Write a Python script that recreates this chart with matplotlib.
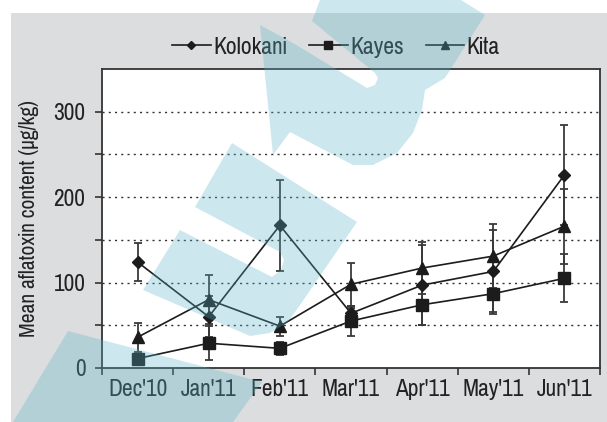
import numpy as np
import matplotlib
matplotlib.use("Agg")
import matplotlib.pyplot as plt
from matplotlib.patches import Polygon, Rectangle

plt.rcParams['font.family'] = ['Pragati Narrow', 'Archivo Narrow', 'Liberation Sans', 'DejaVu Sans']

months = ["Dec'10", "Jan'11", "Feb'11", "Mar'11", "Apr'11", "May'11", "Jun'11"]
kolokani = [124, 60, 167, 64, 97, 113, 226]
kolokani_err = [22, 24, 53, 6, 47, 48, 59]
kayes = [11, 29, 23, 55, 74, 87, 105]
kayes_err = [5, 20, 8, 17, 24, 24, 28]
kita = [36, 80, 49, 98, 117, 131, 166]
kita_err = [17, 29, 11, 25, 30, 37, 44]
ylabel = "Mean aflatoxin content (µg/kg)"

W, H = 607, 422
fig = plt.figure(figsize=(W / 100, H / 100), dpi=100)
fig.patch.set_facecolor('white')

# pick font sizes so the narrow font fills the same widths as in the picture
rend = fig.canvas.get_renderer()
def size_for(s, width_px):
    t = fig.text(0, 0, s, fontsize=20)
    w = t.get_window_extent(rend).width
    t.remove()
    return 20 * width_px / w

fs_tick = size_for("Dec'10", 59)
fs_leg = size_for("Kolokani", 74)
fs_lab = size_for(ylabel, 237)

def fxy(pts):
    return [(x / W, 1 - y / H) for x, y in pts]

# grey panel behind the chart
fig.patches.append(Rectangle((11 / W, 0), 1, 1 - 13 / H, transform=fig.transFigure,
                             facecolor='#dcdddf', edgecolor='none', zorder=-5))

ax = fig.add_axes([102 / W, 1 - 368 / H, (600 - 102) / W, (368 - 69) / H])
ax.set_facecolor('white')

x = np.arange(len(months)) + 0.5
ink = '#1c1c1c'
series = [
    ("Kolokani", kolokani, kolokani_err, 'D', 6.5),
    ("Kayes", kayes, kayes_err, 's', 8),
    ("Kita", kita, kita_err, '^', 8.5),
]
handles = []
for name, vals, err, mk, ms in series:
    ax.errorbar(x, vals, yerr=err, fmt='none', ecolor='#3a3a3a', elinewidth=1.3,
                capsize=3, capthick=1.3, zorder=2)
    h, = ax.plot(x, vals, color=ink, lw=1.2, marker=mk, ms=ms, mfc=ink, mec=ink,
                 label=name, zorder=3)
    handles.append(h)

ax.set_xlim(0, len(months))
ax.set_ylim(0, 350)
ax.set_xticks(np.arange(len(months) + 1))
ax.set_xticklabels([])
ax.set_xticks(x, minor=True)
ax.set_xticklabels(months, minor=True)
ax.tick_params(axis='x', which='major', direction='out', length=5, width=1.2, color='#333333')
ax.tick_params(axis='x', which='minor', length=0, pad=8, labelsize=fs_tick, labelcolor='#222222')

ax.set_yticks([0, 100, 200, 300])
ax.set_yticks([50, 150, 250], minor=True)
ax.tick_params(axis='y', which='both', direction='out', length=5, width=1.2, color='#333333',
               pad=7, labelsize=fs_tick, labelcolor='#222222')
for yv in range(50, 350, 50):
    ax.axhline(yv, color='#333333', lw=1.0, ls=(0, (1.5, 3)), zorder=1)

for s in ax.spines.values():
    s.set_color('#333333')
    s.set_linewidth(1.3)

ax.set_ylabel(ylabel, fontsize=fs_lab, color='#222222', labelpad=10)

fig.legend(handles=handles, loc='center', bbox_to_anchor=(336 / W, 1 - 47 / H), ncol=3,
           frameon=False, fontsize=fs_leg, handlelength=1.5, handletextpad=0.1,
           columnspacing=0.85, markerscale=0.7, labelcolor='#222222')

# watermark shapes over the whole picture
wm_top = [(320, 0), (461, 0), (485, 15), (445, 78), (425, 90), (422, 110), (413, 133),
          (397, 153), (373, 165), (353, 165), (290, 132), (273, 155), (260, 25), (293, 43),
          (367, 88), (375, 85), (378, 78), (375, 73), (312, 21)]
wm_mid = [(232, 143), (357, 222), (300, 305), (288, 322), (270, 333), (250, 336),
          (143, 290), (180, 230), (272, 277), (281, 270), (284, 260), (280, 252), (195, 207)]
wm_low = [(68, 331), (262, 382), (233, 422), (13, 422)]
for shape in (wm_top, wm_mid, wm_low):
    fig.patches.append(Polygon(fxy(shape), closed=True, transform=fig.transFigure,
                               facecolor=(88 / 255, 178 / 255, 198 / 255), alpha=0.3,
                               edgecolor='none', zorder=10))

fig.savefig("out.png", dpi=100)
